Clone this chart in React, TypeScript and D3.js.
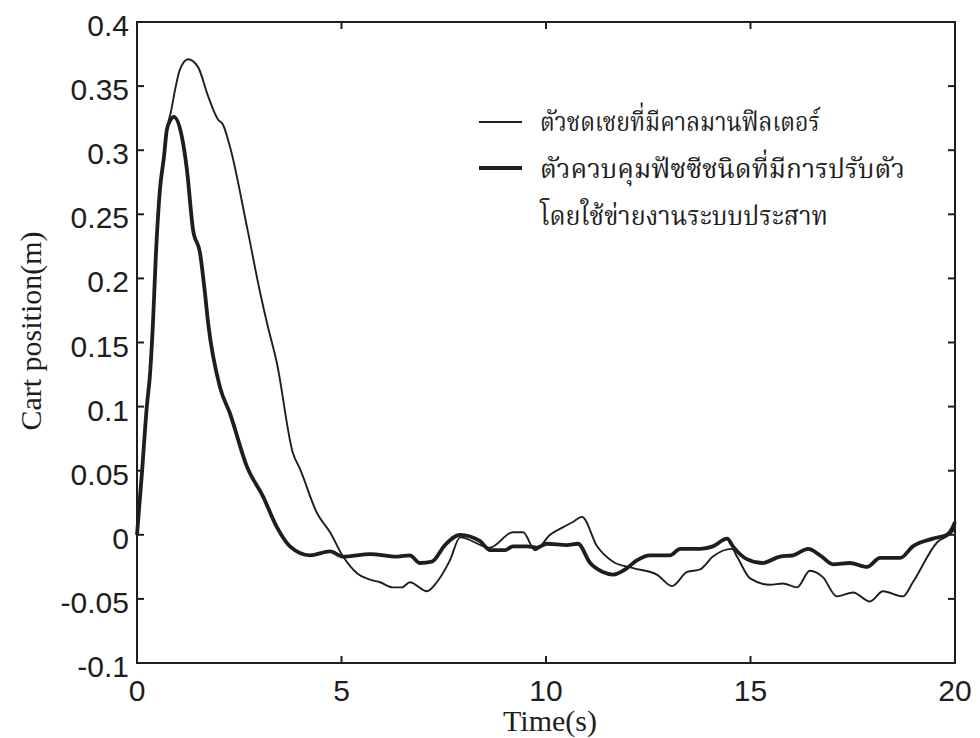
import React from "react";
import * as d3 from "d3";

// Time samples (s) and cart position (m) for each controller
const kalmanT = [0, 0.12, 0.24, 0.32, 0.39, 0.46, 0.56, 0.66, 0.74, 0.83, 0.93, 1.05, 1.25, 1.49, 1.74, 1.98, 2.1, 2.27, 2.69, 3.01, 3.18, 3.42, 3.81, 3.99, 4.4, 4.72, 5.04, 5.38, 5.7, 5.94, 6.26, 6.48, 6.67, 7.09, 7.33, 7.65, 7.9, 8.63, 9.19, 9.44, 9.73, 10.1, 10.42, 10.66, 10.88, 11.25, 11.64, 12.13, 12.71, 13.08, 13.45, 13.77, 14.08, 14.55, 14.67, 14.99, 15.48, 15.79, 16.14, 16.45, 16.77, 17.11, 17.51, 17.92, 18.24, 18.73, 18.97, 19.56, 19.93, 20];
const kalmanY = [0, 0.048, 0.1, 0.126, 0.165, 0.217, 0.269, 0.297, 0.318, 0.33, 0.347, 0.363, 0.371, 0.365, 0.342, 0.324, 0.32, 0.303, 0.24, 0.189, 0.165, 0.134, 0.064, 0.051, 0.017, 0.002, -0.017, -0.03, -0.035, -0.037, -0.041, -0.041, -0.037, -0.044, -0.037, -0.02, -0.002, -0.01, 0.002, 0.002, -0.012, 0.0, 0.006, 0.01, 0.014, -0.009, -0.021, -0.026, -0.031, -0.04, -0.029, -0.027, -0.017, -0.011, -0.017, -0.034, -0.039, -0.038, -0.041, -0.028, -0.033, -0.048, -0.045, -0.052, -0.044, -0.048, -0.037, -0.006, 0.002, 0.005];

const fuzzyT = [0, 0.12, 0.24, 0.32, 0.39, 0.46, 0.56, 0.66, 0.73, 0.81, 0.9, 1.1, 1.22, 1.37, 1.54, 1.66, 1.74, 2.03, 2.27, 2.69, 3.08, 3.42, 3.74, 4.23, 4.72, 5.04, 5.7, 6.36, 6.67, 6.92, 7.21, 7.53, 7.9, 8.39, 8.63, 9.0, 9.19, 9.54, 9.78, 10.02, 10.51, 10.78, 11.08, 11.39, 11.64, 11.98, 12.22, 12.54, 13.03, 13.28, 13.77, 14.08, 14.43, 14.57, 14.91, 15.28, 15.72, 16.04, 16.41, 16.7, 17.02, 17.43, 17.85, 18.17, 18.66, 18.97, 19.46, 19.8, 19.93, 20];
const fuzzyY = [0, 0.048, 0.1, 0.126, 0.165, 0.217, 0.269, 0.295, 0.316, 0.323, 0.326, 0.31, 0.285, 0.238, 0.22, 0.189, 0.165, 0.115, 0.095, 0.053, 0.03, 0.006, -0.009, -0.016, -0.013, -0.017, -0.015, -0.017, -0.016, -0.022, -0.021, -0.008, 0.0, -0.005, -0.012, -0.012, -0.009, -0.009, -0.01, -0.007, -0.008, -0.007, -0.022, -0.029, -0.031, -0.026, -0.02, -0.016, -0.016, -0.011, -0.011, -0.009, -0.003, -0.009, -0.019, -0.022, -0.017, -0.016, -0.011, -0.016, -0.023, -0.022, -0.025, -0.018, -0.018, -0.009, -0.003, 0.0, 0.005, 0.01];

const xTicks = [0, 5, 10, 15, 20];
const yTicks = [-0.1, -0.05, 0, 0.05, 0.1, 0.15, 0.2, 0.25, 0.3, 0.35, 0.4];
const yTickLabels = ["-0.1", "-0.05", "0", "0.05", "0.1", "0.15", "0.2", "0.25", "0.3", "0.35", "0.4"];

const legendLabels = ["ตัวชดเชยที่มีคาลมานฟิลเตอร์", "ตัวควบคุมฟัซซีชนิดที่มีการปรับตัว", "โดยใช้ข่ายงานระบบประสาท"];
const legendWidths = [280, 365, 288];

const W = 980;
const H = 738;
const plot = { left: 137, right: 955, top: 22, bottom: 663 };
const ink = "#1e1e1e";
const tickFont = "'Liberation Sans', Arial, sans-serif";
const titleFont = "'Liberation Serif', 'Times New Roman', serif";
const thaiFont = "Norasi, 'Noto Serif Thai', 'Noto Sans Thai Looped', 'Liberation Serif', serif";

export default function App() {
  const x = d3.scaleLinear().domain([0, 20]).range([plot.left, plot.right]);
  const y = d3.scaleLinear().domain([-0.1, 0.4]).range([plot.bottom, plot.top]);
  const line = d3
    .line<[number, number]>()
    .x((d) => x(d[0]))
    .y((d) => y(d[1]))
    .curve(d3.curveMonotoneX);
  const kalman = kalmanT.map((t, i) => [t, kalmanY[i]] as [number, number]);
  const fuzzy = fuzzyT.map((t, i) => [t, fuzzyY[i]] as [number, number]);
  const tl = 7;

  return (
    <svg width={W} height={H} style={{ position: "absolute", left: 0, top: 0, background: "#fff" }}>
      <rect x={0} y={0} width={W} height={H} fill="#fff" />
      <path d={line(kalman) ?? ""} fill="none" stroke={ink} strokeWidth={1.9} strokeLinejoin="round" />
      <path d={line(fuzzy) ?? ""} fill="none" stroke={ink} strokeWidth={3.8} strokeLinejoin="round" />

      <rect
        x={plot.left}
        y={plot.top}
        width={plot.right - plot.left}
        height={plot.bottom - plot.top}
        fill="none"
        stroke={ink}
        strokeWidth={2}
      />
      {xTicks.map((t) => (
        <g key={"x" + t}>
          <line x1={x(t)} x2={x(t)} y1={plot.bottom} y2={plot.bottom - tl} stroke={ink} strokeWidth={2} />
          <line x1={x(t)} x2={x(t)} y1={plot.top} y2={plot.top + tl} stroke={ink} strokeWidth={2} />
          <text x={x(t)} y={plot.bottom + 38} textAnchor="middle" fontFamily={tickFont} fontSize={30} fill={ink}>
            {t}
          </text>
        </g>
      ))}
      {yTicks.map((t, i) => (
        <g key={"y" + t}>
          <line x1={plot.left} x2={plot.left + tl} y1={y(t)} y2={y(t)} stroke={ink} strokeWidth={2} />
          <line x1={plot.right} x2={plot.right - tl} y1={y(t)} y2={y(t)} stroke={ink} strokeWidth={2} />
          <text x={plot.left - 8} y={y(t) + 14} textAnchor="end" fontFamily={tickFont} fontSize={30} fill={ink}>
            {yTickLabels[i]}
          </text>
        </g>
      ))}
      <text x={550} y={731} textAnchor="middle" fontFamily={titleFont} fontSize={30} fill={ink}>
        Time(s)
      </text>
      <text
        transform="translate(41,331) rotate(-90)"
        textAnchor="middle"
        fontFamily={titleFont}
        fontSize={30}
        fill={ink}
      >
        Cart position(m)
      </text>

      <g>
        <line x1={479} x2={522} y1={122} y2={122} stroke={ink} strokeWidth={1.9} />
        <line x1={479} x2={522} y1={168} y2={168} stroke={ink} strokeWidth={3.8} />
        {legendLabels.map((s, i) => (
          <text
            key={s}
            x={540}
            y={131 + i * 47}
            fontFamily={thaiFont}
            fontSize={27}
            textLength={legendWidths[i]}
            lengthAdjust="spacingAndGlyphs"
            fill={ink}
          >
            {s}
          </text>
        ))}
      </g>
    </svg>
  );
}
